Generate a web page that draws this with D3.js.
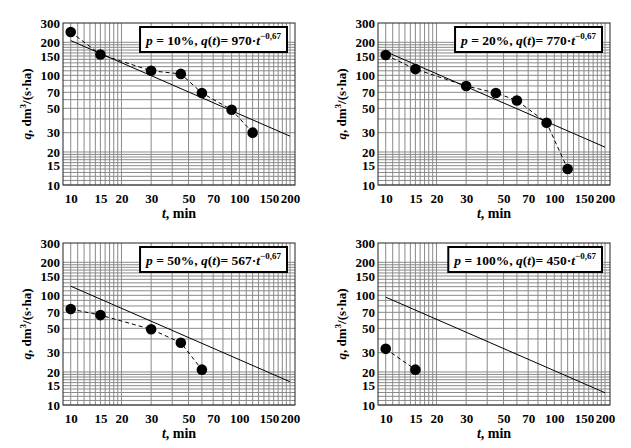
<!DOCTYPE html>
<html><head><meta charset="utf-8">
<script src="https://cdn.jsdelivr.net/npm/d3@7"></script>
</head>
<body style="margin:0;background:#fff">
<svg id="c" width="631" height="448" font-family="Liberation Serif" font-weight="bold"></svg>
<script>
const times = [10, 15, 30, 45, 60, 90, 120];
const q10 = [248, 155, 110, 103, 69, 48.5, 30];
const q20 = [153, 114, 80, 69, 59, 37, 14];
const q50 = [75, 66, 49, 37, 21];
const q100 = [32.5, 21];
const coefs = [970, 770, 567, 450];
const pLabels = ["10%", "20%", "50%", "100%"];
const exponentLabel = "−0,67";
const exponent = -0.67;
const xTicks = [10, 15, 20, 30, 50, 70, 100, 150, 200];
const yTicks = [10, 15, 20, 30, 50, 70, 100, 150, 200, 300];
const xGrid = [10,11,12,13,14,15,16,17,18,19,20,30,40,50,60,70,80,90,100,110,120,130,140,150,160,170,180,190,200];
const yGrid = [10,11,12,13,14,15,16,17,18,19,20,30,40,50,60,70,80,90,100,110,120,130,140,150,160,170,180,190,200];
const series = [q10, q20, q50, q100];
const offsets = [[0,0],[315,0],[0,220],[315,220]];

const FONT = "Liberation Serif";
const svg = d3.select("#c");
const L = 63, R = 295, T = 23, B = 185;
const x = d3.scaleLog().domain([9, 214]).range([L, R]);
const y = d3.scaleLog().domain([10, 300]).range([B, T]);

series.forEach((vals, i) => {
  const g = svg.append("g").attr("transform", `translate(${offsets[i][0]},${offsets[i][1]})`);
  g.append("rect").attr("x", L).attr("y", T).attr("width", R - L).attr("height", B - T).attr("fill", "#fff");
  g.selectAll(".vg").data(xGrid).enter().append("line")
    .attr("x1", d => x(d)).attr("x2", d => x(d)).attr("y1", T).attr("y2", B)
    .attr("stroke", "#8a8a8a").attr("stroke-width", 1);
  g.selectAll(".hg").data(yGrid).enter().append("line")
    .attr("x1", L).attr("x2", R).attr("y1", d => y(d)).attr("y2", d => y(d))
    .attr("stroke", "#8a8a8a").attr("stroke-width", 1);
  g.append("rect").attr("x", L).attr("y", T).attr("width", R - L).attr("height", B - T)
    .attr("fill", "none").attr("stroke", "#222").attr("stroke-width", 1);

  const xa = d3.axisBottom(x).tickValues(xTicks).tickFormat(d3.format("d")).tickSize(0).tickPadding(9);
  const gx = g.append("g").attr("transform", `translate(0,${B})`).call(xa)
    .attr("font-family", FONT).attr("font-size", 13).attr("font-weight", "bold");
  gx.select(".domain").remove();
  gx.selectAll("text").attr("fill", "#000");
  const ya = d3.axisLeft(y).tickValues(yTicks).tickFormat(d3.format("d")).tickSize(0).tickPadding(3);
  const gy = g.append("g").attr("transform", `translate(${L},0)`).call(ya)
    .attr("font-family", FONT).attr("font-size", 13).attr("font-weight", "bold");
  gy.select(".domain").remove();
  gy.selectAll("text").attr("fill", "#000");

  const tLine = [10, 200];
  g.append("path").datum(tLine.map(t => [t, coefs[i] * Math.pow(t, exponent)]))
    .attr("d", d3.line().x(d => x(d[0])).y(d => y(d[1])))
    .attr("fill", "none").attr("stroke", "#000").attr("stroke-width", 1);

  const pts = vals.map((v, k) => [times[k], v]);
  g.append("path").datum(pts)
    .attr("d", d3.line().x(d => x(d[0])).y(d => y(d[1])))
    .attr("fill", "none").attr("stroke", "#000").attr("stroke-width", 1).attr("stroke-dasharray", "4,3");
  g.selectAll(".pt").data(pts).enter().append("circle")
    .attr("cx", d => x(d[0])).attr("cy", d => y(d[1])).attr("r", 5.3).attr("fill", "#000");

  const xt = g.append("text").attr("x", (L + R) / 2).attr("y", B + 33).attr("text-anchor", "middle")
    .attr("font-family", FONT).attr("font-weight", "bold").attr("font-size", 14);
  xt.append("tspan").attr("font-style", "italic").text("t");
  xt.append("tspan").text(", min");
  const yt = g.append("text").attr("transform", `translate(31,${(T + B) / 2}) rotate(-90)`).attr("text-anchor", "middle")
    .attr("font-family", FONT).attr("font-weight", "bold").attr("font-size", 13);
  yt.append("tspan").attr("font-style", "italic").text("q");
  yt.append("tspan").text(", dm");
  yt.append("tspan").attr("font-size", 9).attr("dy", -5).text("3");
  yt.append("tspan").attr("dy", 5).text("/(s·ha)");

  const lg = g.append("g");
  const box = lg.append("rect").attr("fill", "#fff").attr("stroke", "#000").attr("stroke-width", 2);
  const lt = lg.append("text").attr("font-family", FONT).attr("font-weight", "bold").attr("font-size", 13.5).attr("y", 44.5);
  lt.append("tspan").attr("font-style", "italic").text("p");
  lt.append("tspan").text(" = " + pLabels[i] + ", ");
  lt.append("tspan").attr("font-style", "italic").text("q");
  lt.append("tspan").text("(");
  lt.append("tspan").attr("font-style", "italic").text("t");
  lt.append("tspan").text(")= " + coefs[i] + "·");
  lt.append("tspan").attr("font-style", "italic").text("t");
  lt.append("tspan").attr("font-size", 9).attr("dy", -6).text(exponentLabel);
  const w = lt.node().getComputedTextLength();
  const right = 287, pad = 6;
  lt.attr("x", right - pad - w);
  box.attr("x", right - 2 * pad - w).attr("y", 27).attr("width", w + 2 * pad).attr("height", 25);
});
</script></body></html>
